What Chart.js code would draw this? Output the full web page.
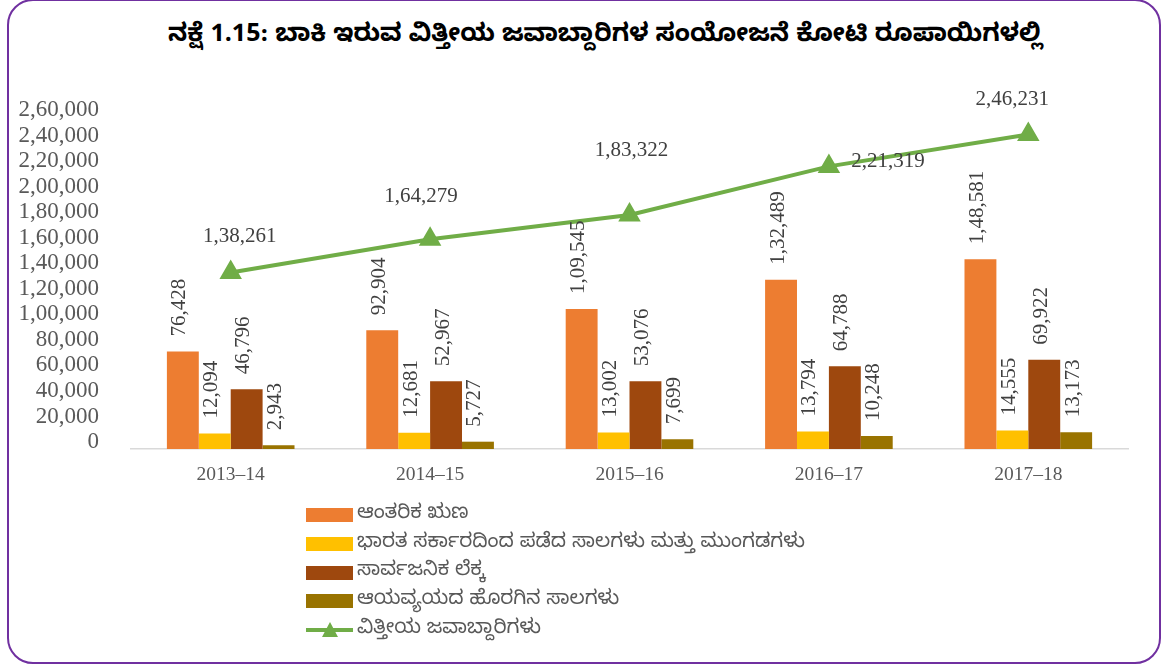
<!DOCTYPE html>
<html>
<head>
<meta charset="utf-8">
<script src="https://cdn.jsdelivr.net/npm/chart.js@4.4.1/dist/chart.umd.min.js"></script>
<style>
  html, body { margin: 0; padding: 0; background: #fff; }
  body { width: 1171px; height: 665px; position: relative; overflow: hidden; }
  #frame {
    position: absolute; left: 7px; top: -1px; width: 1150px; height: 661px;
    border: 2.5px solid #7030A0; border-radius: 26px; box-sizing: content-box;
  }
  #chart { position: absolute; left: 0; top: 0; }
  #title {
    position: absolute; left: 105px; width: 1000px; top: 20px; text-align: center;
    font-family: "Noto Sans Kannada", "Noto Sans", sans-serif; font-weight: bold; font-size: 25px;
    line-height: 36px; color: #000; white-space: nowrap;
  }
  #legend {
    position: absolute; left: 306px; top: 501px;
    font-family: "Noto Sans Kannada", "Noto Sans", sans-serif; font-size: 20px; color: #595959;
  }
  .row { height: 28.7px; display: flex; align-items: center; }
  .box { width: 47px; height: 14px; margin-right: 4px; }
  .lineKey { width: 47px; height: 14px; margin-right: 4px; position: relative; }
  .lineKey .ln { position: absolute; left: 0; right: 0; top: 5px; height: 4px; background: #70AD47; }
  .lineKey .tri {
    position: absolute; left: 16px; top: -1px; width: 0; height: 0;
    border-left: 8px solid transparent; border-right: 8px solid transparent; border-bottom: 15px solid #70AD47;
  }
</style>
</head>
<body>
<div id="frame"></div>
<div id="title"></div>
<canvas id="chart" width="1171" height="665"></canvas>
<div id="legend"></div>
<script>
// chart data (crore rupees)
const years = ['2013–14', '2014–15', '2015–16', '2016–17', '2017–18'];
const internalDebt = [76428, 92904, 109545, 132489, 148581];
const centralLoans = [12094, 12681, 13002, 13794, 14555];
const publicAccount = [46796, 52967, 53076, 64788, 69922];
const offBudget = [2943, 5727, 7699, 10248, 13173];
const totalLiabilities = [138261, 164279, 183322, 221319, 246231];

const seriesNames = [
  'ಆಂತರಿಕ ಋಣ',
  'ಭಾರತ ಸರ್ಕಾರದಿಂದ ಪಡೆದ ಸಾಲಗಳು ಮತ್ತು ಮುಂಗಡಗಳು',
  'ಸಾರ್ವಜನಿಕ ಲೆಕ್ಕ',
  'ಆಯವ್ಯಯದ ಹೊರಗಿನ ಸಾಲಗಳು',
  'ವಿತ್ತೀಯ ಜವಾಬ್ದಾರಿಗಳು'
];
const titleText = 'ನಕ್ಷೆ 1.15: ಬಾಕಿ ಇರುವ ವಿತ್ತೀಯ ಜವಾಬ್ದಾರಿಗಳ ಸಂಯೋಜನೆ ಕೋಟಿ ರೂಪಾಯಿಗಳಲ್ಲಿ';

// label nudges for the line values [dx, dy]
const lineLabelShift = [[9, -36], [-9, -43], [2, -64], [59, -5], [-16, -35]];

const numFont = '"Liberation Serif", "Times New Roman", serif';

document.getElementById('title').textContent = titleText;

// Indian digit grouping: 2,46,231
function inr(v) {
  return Math.round(v).toLocaleString('en-IN');
}

// value labels drawn on top of the marks
const valueLabels = {
  id: 'valueLabels',
  afterDatasetsDraw(chart) {
    const ctx = chart.ctx;
    ctx.save();
    ctx.fillStyle = '#404040';
    ctx.font = '21px ' + numFont;
    chart.data.datasets.forEach((ds, di) => {
      const meta = chart.getDatasetMeta(di);
      meta.data.forEach((el, i) => {
        const txt = inr(ds.data[i]);
        if (ds.type === 'line') {
          const s = lineLabelShift[i];
          ctx.textAlign = 'center';
          ctx.textBaseline = 'middle';
          ctx.fillText(txt, el.x + s[0], el.y + s[1]);
        } else {
          ctx.save();
          ctx.translate(el.x - 3, el.y - 15);
          ctx.rotate(-Math.PI / 2);
          ctx.textAlign = 'left';
          ctx.textBaseline = 'middle';
          ctx.fillText(txt, 0, 0);
          ctx.restore();
        }
      });
    });
    ctx.restore();
  }
};

const barColors = ['#ED7D31', '#FFC000', '#9E480E', '#997300'];
const barSeries = [internalDebt, centralLoans, publicAccount, offBudget];

const datasets = barSeries.map((d, k) => ({
  type: 'bar',
  label: seriesNames[k],
  data: d,
  backgroundColor: barColors[k],
  categoryPercentage: 0.64,
  barPercentage: 1.0,
  order: 1
}));

datasets.push({
  type: 'line',
  label: seriesNames[4],
  data: totalLiabilities,
  borderColor: '#70AD47',
  backgroundColor: '#70AD47',
  borderWidth: 4,
  pointStyle: 'triangle',
  pointRadius: 9,
  pointHoverRadius: 9,
  tension: 0,
  order: -1
});

const chart = new Chart(document.getElementById('chart'), {
  type: 'bar',
  data: { labels: years, datasets },
  options: {
    responsive: false,
    animation: false,
    layout: { padding: { left: 12, right: 43, top: 117, bottom: 176 } },
    plugins: {
      legend: { display: false },
      tooltip: { enabled: false },
      title: { display: false }
    },
    scales: {
      x: {
        grid: { display: false },
        border: { display: true, color: '#D9D9D9', width: 1.5 },
        ticks: { color: '#595959', font: { family: numFont, size: 19.5 }, padding: 6 },
        afterFit(scale) { scale.height = 40; }
      },
      y: {
        min: 0,
        max: 260000,
        grid: { display: false },
        border: { display: false },
        ticks: {
          stepSize: 20000,
          autoSkip: false,
          color: '#595959',
          font: { family: numFont, size: 23 },
          padding: 24,
          labelOffset: -7,
          callback: v => inr(v)
        },
        afterFit(scale) { scale.width = 119; }
      }
    }
  },
  plugins: [valueLabels]
});

// legend listed one per row, left aligned under the plot
const legend = document.getElementById('legend');
chart.data.datasets.forEach(ds => {
  const row = document.createElement('div');
  row.className = 'row';
  const key = document.createElement('div');
  if (ds.type === 'line') {
    key.className = 'lineKey';
    key.innerHTML = '<div class="ln"></div><div class="tri"></div>';
  } else {
    key.className = 'box';
    key.style.background = ds.backgroundColor;
  }
  const txt = document.createElement('span');
  txt.textContent = ds.label;
  row.appendChild(key);
  row.appendChild(txt);
  legend.appendChild(row);
});
</script>
</body>
</html>
